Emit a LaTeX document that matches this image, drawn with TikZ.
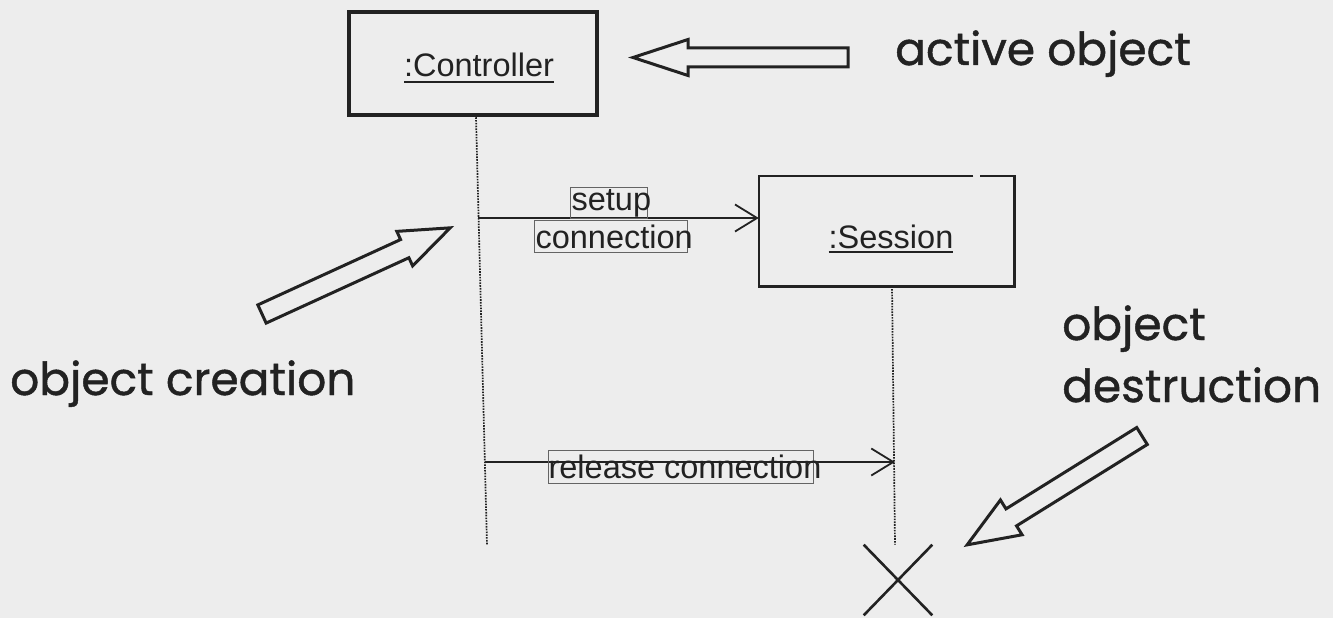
\documentclass[tikz,border=0pt]{standalone}
\usepackage{fontspec}
\setmainfont{Liberation Sans}
\newfontfamily\handfont[FakeBold=1]{Poppins}
\usetikzlibrary{arrows.meta,shapes.misc,calc}
\definecolor{paper}{RGB}{237,237,237}
\definecolor{ink}{RGB}{34,34,34}
\definecolor{boxline}{RGB}{100,100,100}

% underlined object name with a heavier rule set a little below the baseline
\newcommand\objname[2]{\setbox0\hbox{#2}\rlap{\copy0}\raisebox{-#1}{\rule{\wd0}{1.9pt}}}

\tikzset{
  objbox/.style={draw=ink, fill=none, inner sep=0},
  objlabel/.style={inner sep=0, anchor=base, text=ink, font=\fontsize{32.5}{38}\selectfont},
  life/.style={draw=ink, line width=1.7pt, dash pattern=on 1.6pt off 1.2pt},
  msg/.style={draw=ink, line width=1.8pt,
    -{Straight Barb[length=22pt,width=27pt,line width=1.8pt]}},
  msglabel/.style={draw=boxline, line width=1.2pt, inner sep=0, anchor=north west,
    text=ink, font=\fontsize{32.5}{38}\selectfont},
  note/.style={font=\handfont\fontsize{45.5}{52}\selectfont, text=ink,
    anchor=base west, inner sep=0},
  hollow/.style={draw=ink, line width=3pt, fill=paper, line join=miter},
  pics/hollow arrow/.style args={#1/#2/#3/#4}{code={
    \draw[hollow] (0,-#2/2) -- (#1-#4,-#2/2) -- (#1-#4,-#3/2) -- (#1,0)
      -- (#1-#4,#3/2) -- (#1-#4,#2/2) -- (0,#2/2) -- cycle;
  }}
}

\begin{document}
\begin{tikzpicture}[x=1pt,y=-1pt]
\fill[paper] (0,0) rectangle (1333,618);
\useasboundingbox (0,0) rectangle (1333,618);

% objects
\node[objbox, line width=4.5pt, minimum width=248pt, minimum height=103pt] (ctrl) at (473,63.5) {};
\node[objlabel] (ctrl-name) at (479,77) {\objname{6pt}{:Controller}};

\node[objbox, draw=none, line width=2.5pt, minimum width=253pt, minimum height=108pt] (sess) at (886.5,231) {};
\draw[ink, line width=2.5pt, line join=miter]
  ([xshift=-41pt]sess.north east) -- (sess.north west) -- (sess.south west)
  -- (sess.south east) -- (sess.north east) -- ([xshift=-34pt]sess.north east);
\node[objlabel] (sess-name) at (891,248) {\objname{5pt}{:Session}};

% destruction mark
\node[cross out, draw=ink, line width=2.6pt, minimum width=66pt, minimum height=68pt, inner sep=0] (kill) at (898,580) {};

% lifelines
\coordinate (ctrl-end) at (487,545);
\draw[life] ([xshift=3pt]ctrl.south) -- (ctrl-end);
\draw[life] ([xshift=5.5pt]sess.south) -- ([xshift=-3pt]kill.north);

% messages
\coordinate (m1a) at (478,218);
\draw[msg] (m1a) -- (m1a -| sess.west);
\coordinate (m2a) at (485,462);
\coordinate (m2b) at (895,462);
\draw[msg] (m2a) -- (m2b);

\node[msglabel, minimum width=77pt, minimum height=31pt] (l-setup) at (570,187)
  {\makebox[77pt][l]{\hspace{1pt}setup}};
\node[msglabel, minimum width=153pt, minimum height=32pt] (l-conn) at (534,220)
  {\makebox[153pt][l]{\hspace{1pt}connection}};
\node[msglabel, minimum width=265pt, minimum height=33pt] (l-release) at (548,450)
  {\makebox[265pt][l]{release connection}};

% pointer arrows
\pic[rotate=180] (p-active) at (848,57.5) {hollow arrow={215/19/36/55}};
\pic[rotate=24.6] (p-create) at (262,314) {hollow arrow={207/20/38/50}};
\pic[rotate=211.9] (p-destroy) at (1142,436) {hollow arrow={206/20/41/52}};

% notes
\node[note] (n-active) at (895,65) {active object};
\node[note] (n-create) at (10,395) {object creation};
\node[note] (n-destroy1) at (1062,340) {object};
\node[note] (n-destroy2) at (1062,402) {destruction};
\end{tikzpicture}
\end{document}
